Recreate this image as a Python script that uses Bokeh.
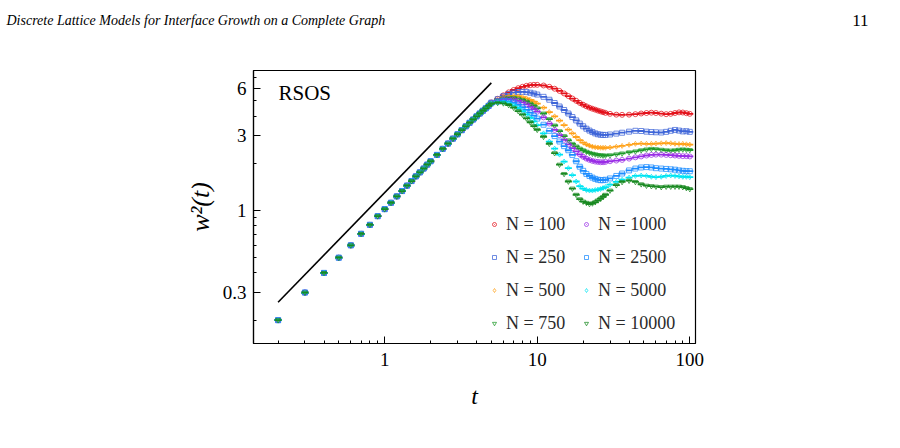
from bokeh.plotting import figure
from bokeh.layouts import column
from bokeh.models import (FixedTicker, NumeralTickFormatter, Legend, LegendItem,
                          Label, Range1d)
from bokeh.core.properties import value
from bokeh.embed import file_html
from bokeh.resources import INLINE

# ---- data -------------------------------------------------------------
# early times: all system sizes fall on the same curve
t_early = [0.2, 0.3, 0.4, 0.5, 0.6, 0.7, 0.8, 0.9, 1.0, 1.1, 1.2, 1.3, 1.4, 1.5,
           1.6, 1.7, 1.8, 1.9, 2.0, 2.2, 2.4, 2.6, 2.8, 3.0, 3.2, 3.4, 3.6, 3.8,
           4.0, 4.2, 4.4, 4.6, 4.8]
w2_early = [0.2, 0.3, 0.4, 0.5, 0.6, 0.71, 0.81, 0.92, 1.02, 1.12, 1.23, 1.33,
            1.44, 1.54, 1.65, 1.75, 1.85, 1.96, 2.06, 2.26, 2.47, 2.67, 2.87,
            3.06, 3.25, 3.44, 3.62, 3.8, 3.98, 4.15, 4.32, 4.48, 4.64]

# later times: curves separate by system size N
t_late = [5, 5.5, 6, 6.5, 7, 7.5, 8, 8.5, 9, 9.5, 10,
          11, 12, 13, 14, 15, 16, 17, 18, 19, 20, 21, 22, 23, 24, 25, 26, 27, 28,
          30, 33, 36, 40, 44, 48, 52, 56, 60, 65, 70, 75, 80, 85, 90, 95, 100]

w2_N100 = [4.88, 5.15, 5.42, 5.66, 5.86, 6.02, 6.14, 6.23, 6.29, 6.32, 6.32,
           6.26, 6.14, 5.97, 5.78, 5.57, 5.36, 5.17, 5.0, 4.85, 4.72, 4.61, 4.52,
           4.45, 4.39, 4.33, 4.28, 4.23, 4.19,
           4.13, 4.08, 4.07, 4.08, 4.11, 4.15, 4.18, 4.2, 4.18, 4.14, 4.11, 4.13,
           4.18, 4.22, 4.21, 4.17, 4.13]
w2_N250 = [4.87, 5.12, 5.35, 5.52, 5.63, 5.69, 5.7, 5.68, 5.63, 5.56, 5.48,
           5.3, 5.08, 4.84, 4.6, 4.37, 4.15, 3.94, 3.75, 3.58, 3.44, 3.32, 3.23,
           3.16, 3.1, 3.06, 3.04, 3.03, 3.03,
           3.05, 3.09, 3.13, 3.18, 3.22, 3.21, 3.18, 3.16, 3.15, 3.14, 3.17, 3.22,
           3.26, 3.23, 3.19, 3.2, 3.17]
w2_N500 = [4.86, 5.08, 5.26, 5.35, 5.38, 5.35, 5.28, 5.18, 5.06, 4.93, 4.8,
           4.52, 4.24, 3.98, 3.74, 3.5, 3.28, 3.1, 2.94, 2.81, 2.71, 2.64, 2.59,
           2.55, 2.53, 2.52, 2.51, 2.51, 2.51,
           2.52, 2.55, 2.58, 2.62, 2.66, 2.67, 2.66, 2.66, 2.67, 2.68, 2.69, 2.68,
           2.66, 2.65, 2.66, 2.64, 2.63]
w2_N750 = [4.85, 5.04, 5.18, 5.24, 5.23, 5.17, 5.07, 4.95, 4.8, 4.64, 4.48,
           4.15, 3.82, 3.48, 3.2, 2.98, 2.8, 2.66, 2.56, 2.48, 2.42, 2.37, 2.33,
           2.3, 2.28, 2.26, 2.25, 2.24, 2.24,
           2.25, 2.28, 2.31, 2.35, 2.38, 2.42, 2.45, 2.47, 2.46, 2.44, 2.42, 2.41,
           2.42, 2.44, 2.45, 2.44, 2.43]
w2_N1000 = [4.84, 5.0, 5.1, 5.13, 5.09, 5.0, 4.88, 4.74, 4.58, 4.42, 4.26,
            3.92, 3.58, 3.26, 3.02, 2.82, 2.64, 2.5, 2.38, 2.28, 2.2, 2.14, 2.1,
            2.07, 2.05, 2.04, 2.03, 2.03, 2.04,
            2.06, 2.08, 2.1, 2.14, 2.18, 2.21, 2.24, 2.26, 2.27, 2.27, 2.26, 2.25,
            2.24, 2.23, 2.22, 2.22, 2.21]
w2_N2500 = [4.82, 4.94, 4.99, 4.95, 4.86, 4.72, 4.55, 4.38, 4.2, 4.02, 3.85,
            3.52, 3.22, 2.98, 2.75, 2.57, 2.42, 2.26, 2.06, 1.9, 1.79, 1.71, 1.66,
            1.62, 1.59, 1.57, 1.56, 1.56, 1.57,
            1.6, 1.66, 1.72, 1.8, 1.85, 1.88, 1.89, 1.88, 1.86, 1.85, 1.84, 1.83,
            1.82, 1.8, 1.79, 1.78, 1.78]
w2_N5000 = [4.8, 4.9, 4.9, 4.82, 4.68, 4.5, 4.3, 4.1, 3.9, 3.7, 3.5,
            3.1, 2.75, 2.48, 2.27, 2.05, 1.86, 1.68, 1.53, 1.43, 1.38, 1.35, 1.34,
            1.34, 1.35, 1.36, 1.37, 1.39, 1.41,
            1.46, 1.52, 1.57, 1.62, 1.66, 1.67, 1.66, 1.64, 1.63, 1.64, 1.66, 1.67,
            1.66, 1.65, 1.64, 1.64, 1.63]
w2_N10000 = [4.78, 4.85, 4.82, 4.7, 4.52, 4.3, 4.08, 3.86, 3.65, 3.45, 3.27,
             2.95, 2.66, 2.32, 1.96, 1.71, 1.53, 1.38, 1.26, 1.18, 1.14, 1.12, 1.1,
             1.11, 1.13, 1.16, 1.19, 1.22, 1.26,
             1.34, 1.45, 1.52, 1.55, 1.52, 1.47, 1.44, 1.43, 1.42, 1.41, 1.42, 1.42,
             1.42, 1.42, 1.41, 1.39, 1.37]

sizes = [100, 250, 500, 750, 1000, 2500, 5000, 10000]
series = [w2_N100, w2_N250, w2_N500, w2_N750, w2_N1000, w2_N2500, w2_N5000, w2_N10000]
colors = ["#e3121b", "#3f66d8", "#ffa21a", "#1f9a2a",
          "#9a2ee6", "#1c8cff", "#00e4f2", "#1a8a22"]
markers = ["circle_dot", "square", "diamond", "inverted_triangle",
           "circle_dot", "square", "diamond", "inverted_triangle"]

# reference power-law guide, slope 1
guide_t = [0.2, 5.0]
guide_w2 = [0.26, 6.5]

# axis ticks
x_major = [1, 10, 100]
x_minor = [0.2, 0.3, 0.4, 0.5, 0.6, 0.7, 0.8, 0.9,
           2, 3, 4, 5, 6, 7, 8, 9, 20, 30, 40, 50, 60, 70, 80, 90]
y_major = [0.3, 1, 3, 6]
y_minor = [0.2, 0.4, 0.5, 0.6, 0.7, 0.8, 0.9, 2, 4, 5, 7]

header_title = "Discrete Lattice Models for Interface Growth on a Complete Graph"
page_number = "11"

SERIF = "Liberation Serif"
W = 900
HEADER_H = 30

# ---- running page header -----------------------------------------------
hdr = figure(width=W, height=HEADER_H, x_range=Range1d(0, W), y_range=Range1d(0, HEADER_H),
             x_axis_location=None, y_axis_location=None, min_border=0,
             output_backend="svg", toolbar_location=None)
if "frame_align" in hdr.properties():
    hdr.frame_align = False
hdr.outline_line_color = None
hdr.xgrid.visible = False
hdr.ygrid.visible = False
hdr.background_fill_color = "white"
hdr.border_fill_color = "white"
hdr.text(x=[6], y=[10], text=[header_title], text_font=value(SERIF),
         text_font_style="italic", text_font_size="14px", text_color="black",
         text_baseline="alphabetic", text_align="left")
hdr.text(x=[868], y=[10], text=[page_number], text_font=value(SERIF),
         text_font_size="17px", text_color="black",
         text_baseline="alphabetic", text_align="right")

# ---- main plot ----------------------------------------------------------
p = figure(width=W, height=448 - HEADER_H, x_axis_type="log", y_axis_type="log",
           x_range=Range1d(0.138, 109), y_range=Range1d(0.142, 7.8),
           min_border_left=253, min_border_right=205,
           min_border_top=70 - HEADER_H, min_border_bottom=105,
           output_backend="svg", toolbar_location=None)
if "frame_align" in p.properties():
    p.frame_align = False
p.background_fill_color = "white"
p.border_fill_color = "white"
p.outline_line_color = "black"
p.outline_line_width = 1.2
p.outline_line_alpha = 1.0
p.xgrid.visible = False
p.ygrid.visible = False

for ax in (p.xaxis[0], p.yaxis[0]):
    ax.axis_line_color = "black"
    ax.axis_line_width = 1.2
    ax.major_tick_in = 7
    ax.major_tick_out = 0
    ax.minor_tick_in = 3
    ax.minor_tick_out = 0
    ax.major_tick_line_color = "black"
    ax.minor_tick_line_color = "black"
    ax.major_label_text_font = SERIF
    ax.major_label_text_font_size = "19px"
    ax.major_label_text_color = "black"
    ax.axis_label_text_font = SERIF
    ax.axis_label_text_font_style = "italic"
    ax.axis_label_text_color = "black"
    ax.formatter = NumeralTickFormatter(format="0[.]0")

p.xaxis.ticker = FixedTicker(ticks=x_major, minor_ticks=x_minor)
p.yaxis.ticker = FixedTicker(ticks=y_major, minor_ticks=y_minor)
p.xaxis.major_label_standoff = 9
p.yaxis.major_label_standoff = 7
p.xaxis.axis_label = "t"
p.yaxis.axis_label = "w²(t)"
p.xaxis.axis_label_text_font_size = "24px"
p.yaxis.axis_label_text_font_size = "26px"
p.xaxis.axis_label_standoff = 14
p.yaxis.axis_label_standoff = 5

p.line(guide_t, guide_w2, line_color="black", line_width=1.6)

items = []
for n, w2, c, m in zip(sizes, series, colors, markers):
    t_all = t_early + t_late
    w_all = w2_early + w2
    # error-bar caps
    p.scatter(t_all, w_all, marker="dash", size=7, line_color=c, line_width=1.8)
    r = p.scatter(t_all, w_all, marker=m, size=5, line_color=c, line_alpha=0.75,
                  fill_color=None, line_width=1)
    items.append(LegendItem(label=f"N = {n}", renderers=[r]))

for col, x0 in ((0, 236), (1, 328)):
    leg = Legend(items=items[4 * col:4 * col + 4], location=(x0, 6),
                 orientation="vertical", glyph_width=10, glyph_height=10,
                 label_height=28, spacing=5, label_standoff=7, padding=0, margin=0,
                 border_line_color=None, background_fill_alpha=0,
                 label_text_font=SERIF, label_text_font_size="18px",
                 label_text_color="#2a2a2a")
    p.add_layout(leg)

p.add_layout(Label(x=25, y=239, x_units="screen", y_units="screen", text="RSOS",
                   text_font=SERIF, text_font_size="21px", text_color="black"))

page = column(hdr, p, spacing=0)
open("out.html", "w").write(file_html(page, INLINE))
